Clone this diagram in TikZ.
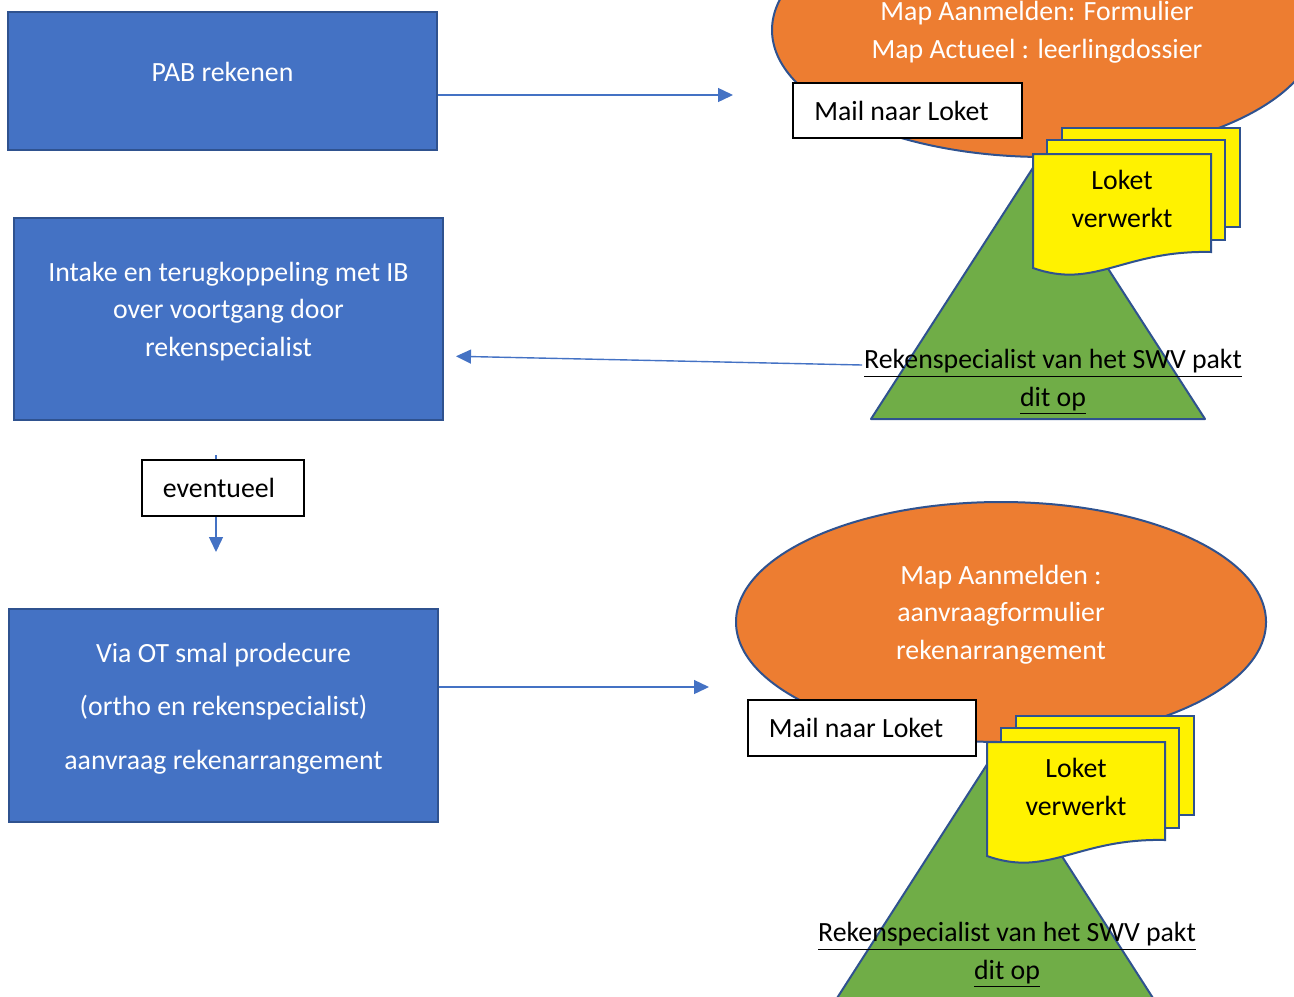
\documentclass[tikz,border=0pt]{standalone}
\usepackage{fontspec}
\setmainfont{Carlito}
\usetikzlibrary{shapes.geometric,arrows.meta}
\definecolor{wordblue}{HTML}{4472C4}
\definecolor{wordline}{HTML}{2F528F}
\definecolor{wordorange}{HTML}{ED7D31}
\definecolor{wordgreen}{HTML}{70AD47}
\newcommand{\loketstack}[1]{%
	\begin{scope}[shift={#1}]
		\draw[sheet] (29,-26) rectangle (207,73);
		\draw[sheet] (14,-14) rectangle (192,86);
		\draw[sheet] (0,0) -- (178,0) -- (178,98) .. controls (90,96) and (62,136) .. (0,114) -- cycle;
	\end{scope}}

\begin{document}
\begin{tikzpicture}[x=0.5pt,y=-0.5pt,font=\fontsize{13.9}{18.7}\selectfont]
	%
	% `process' is used for the blue boxes on the left.
	% `tag' is used for the small white boxes.
	% `folder' and `hill' are the orange ellipses and green triangles.
	% `sheet' is used for the yellow pages, `flow' for the arrows.
	\tikzstyle{process} = [draw=wordline,fill=wordblue,line width=1pt,text=white,align=center,inner sep=0pt,minimum width=214.5pt]
	\tikzstyle{tag} = [draw=black,fill=white,line width=0.8pt,inner sep=0pt]
	\tikzstyle{folder} = [ellipse,draw=wordline,fill=wordorange,line width=1pt,text=white,align=center,inner sep=0pt]
	\tikzstyle{hill} = [draw=wordline,fill=wordgreen,line width=1pt,line join=round]
	\tikzstyle{sheet} = [draw=wordline,fill=yellow,line width=1pt]
	\tikzstyle{flow} = [draw=wordblue,line width=0.7pt,-{Triangle[length=7.5pt,width=7pt]}]
	\tikzstyle{note} = [align=center,inner sep=0pt]
	%
	\useasboundingbox (0,0) rectangle (1294,996);
	\clip (0,0) rectangle (1294,996);
	%
	% Left column
	\node[process,minimum height=69pt,text depth=9pt] (pab) at (222.5,81) {PAB rekenen};
	\node[process,minimum height=101pt,text depth=10pt] (intake) at (228.5,319) {Intake en terugkoppeling met IB\\over voortgang door\\rekenspecialist};
	\node[process,minimum height=106.5pt,text depth=9.5pt] (via) at (223.5,715.5) {Via OT smal prodecure\\[8pt](ortho en rekenspecialist)\\[8pt]aanvraag rekenarrangement};
	%
	% Arrows
	\coordinate (pabend) at (733,95);
	\draw[flow] (pab.east |- pabend) -- (pabend);
	\coordinate (rekstart) at (862,365);
	\coordinate (intakein) at (455,356);
	\draw[flow,shorten >=6pt] (rekstart) -- (intake.east |- intakein);
	\coordinate (evtop) at (216,455);
	\coordinate (evend) at (216,552);
	\draw[flow] (evtop) -- (evend);
	\coordinate (viaend) at (709,687);
	\draw[flow] (via.east |- viaend) -- (viaend);
	\node[tag,minimum width=81pt,minimum height=28pt] (evt) at (223,488) {eventueel\hspace*{4pt}};
	%
	% Top right
	\node[folder,minimum width=273pt,minimum height=127pt,text depth=0pt] (map1) at (1045,30) {Map Aanmelden: Formulier\hspace*{8pt}\\Map Actueel : leerlingdossier\hspace*{8pt}};
	\draw[hill] (871,419) -- (1038,160) -- (1205,419) -- cycle;
	\node[tag,minimum width=114.5pt,minimum height=27.5pt] (mail1) at (907.5,110.5) {Mail naar Loket\hspace*{6pt}};
	\loketstack{(1033,154)}
	\node[note] (loket1) at (1122,199) {Loket\\verwerkt};
	\node[note] (rek1) at (1053,382) {\underline{Rekenspecialist van het SWV pakt}\\\underline{dit op}};
	%
	% Bottom right
	\node[folder,minimum width=265pt,minimum height=120pt,text depth=10pt] (map2) at (1001,622) {Map Aanmelden :\\aanvraagformulier\\rekenarrangement};
	\draw[hill] (830,1009) -- (995,752) -- (1160,1009) -- cycle;
	\node[tag,minimum width=114pt,minimum height=28pt] (mail2) at (862,728) {Mail naar Loket\hspace*{6pt}};
	\loketstack{(987,742)}
	\node[note] (loket2) at (1076,787) {Loket\\verwerkt};
	\node[note] (rek2) at (1007,955) {\underline{Rekenspecialist van het SWV pakt}\\\underline{dit op}};
	%
\end{tikzpicture}
\end{document}
